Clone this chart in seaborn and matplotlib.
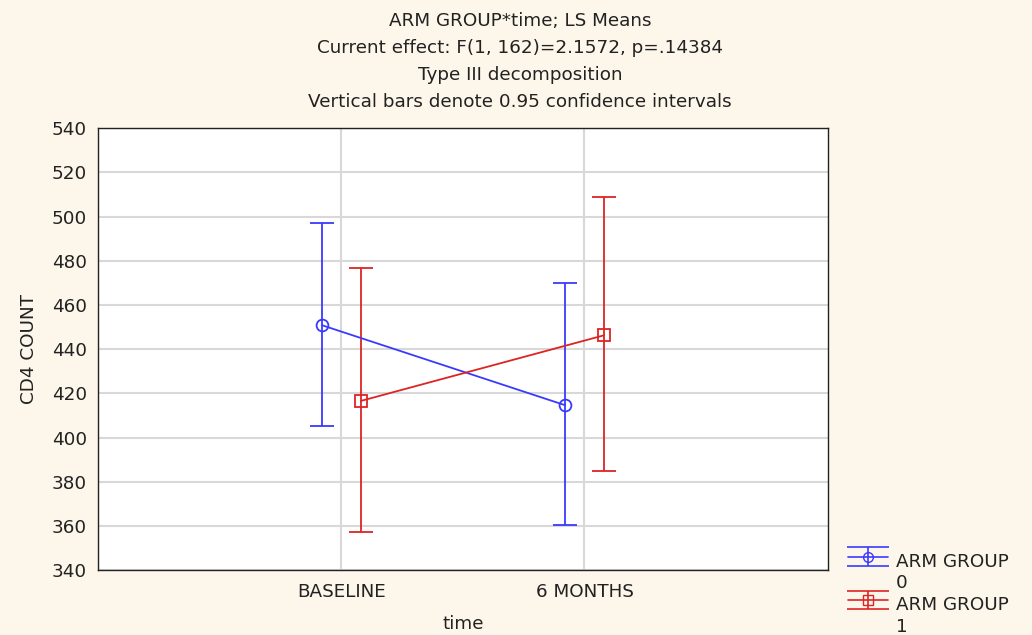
import numpy as np
import pandas as pd
import matplotlib
matplotlib.use("Agg")
import matplotlib.pyplot as plt
from matplotlib.legend_handler import HandlerErrorbar
import seaborn as sns

# ---- data ----
times = ["BASELINE", "6 MONTHS"]
groups = ["ARM GROUP\n0", "ARM GROUP\n1"]
means_g0 = [450.9, 414.7]
lower_g0 = [405.2, 360.4]
upper_g0 = [497.0, 469.9]
means_g1 = [416.6, 446.3]
lower_g1 = [357.2, 384.8]
upper_g1 = [476.7, 508.8]
yticks = list(range(340, 541, 20))

sns.set_theme(style="white")
plt.rcParams['font.family'] = ['DejaVu Sans']

FS = 13.2
bg = "#fdf6ea"
txt = "#222222"
colors = ["#3a3aff", "#dd2424"]
markers = ["o", "s"]
offsets = [-0.08, 0.08]

fig = plt.figure(figsize=(10.32, 6.35), dpi=100, facecolor=bg)
ax = fig.add_axes([0.095, 0.102, 0.707, 0.696])
ax.set_facecolor("white")

rows = []
for g, m, lo, hi in [(groups[0], means_g0, lower_g0, upper_g0),
                     (groups[1], means_g1, lower_g1, upper_g1)]:
    for i, t in enumerate(times):
        rows.append(dict(group=g, time=t, idx=i, mean=m[i], lo=lo[i], hi=hi[i]))
df = pd.DataFrame(rows)

handles = []
for k, g in enumerate(groups):
    sub = df[df.group == g].copy()
    sub["x"] = sub["idx"] + offsets[k]
    sns.lineplot(data=sub, x="x", y="mean", ax=ax, color=colors[k], lw=1.3,
                 marker=markers[k], markersize=8.5 if k == 0 else 9,
                 markerfacecolor="none", markeredgecolor=colors[k],
                 markeredgewidth=1.3, legend=False, zorder=3)
    ax.errorbar(sub["x"], sub["mean"],
                yerr=[sub["mean"] - sub["lo"], sub["hi"] - sub["mean"]],
                fmt="none", ecolor=colors[k], elinewidth=1.3, capsize=8.5,
                capthick=1.3, zorder=2)
    h = ax.errorbar([np.nan], [np.nan], yerr=[[np.nan], [np.nan]], fmt="-",
                    color=colors[k], marker=markers[k], markersize=7,
                    markerfacecolor="none", lw=1.2, capsize=15, capthick=1.2,
                    label=g)
    handles.append(h)


class ShiftedErrorbar(HandlerErrorbar):
    def create_artists(self, legend, orig_handle, xdescent, ydescent, width,
                       height, fontsize, trans):
        return super().create_artists(legend, orig_handle, xdescent,
                                      ydescent - 1.8 * fontsize, width,
                                      height, fontsize, trans)


ax.set_xlim(-1, 2)
ax.set_ylim(340, 540)
ax.set_xticks(range(len(times)))
ax.set_xticklabels(times)
ax.set_yticks(yticks)
ax.grid(True, color="#d8d8d8", lw=1.5)
ax.set_axisbelow(True)
for s in ax.spines.values():
    s.set_color(txt)
    s.set_linewidth(1.0)
ax.tick_params(axis="both", labelsize=FS, colors=txt, direction="in",
               length=4, pad=8)
ax.tick_params(axis="x", length=0, pad=9)
ax.set_xlabel("time", fontsize=FS, labelpad=10, color=txt)
ax.set_ylabel("CD4 COUNT", fontsize=FS, labelpad=10, color=txt)

title_lines = ["ARM GROUP*time; LS Means",
               "Current effect: F(1, 162)=2.1572, p=.14384",
               "Type III decomposition",
               "Vertical bars denote 0.95 confidence intervals"]
for i, line in enumerate(title_lines):
    fig.text(0.504, 1 - (21 + 27 * i) / 635, line, ha="center", va="center",
             fontsize=FS, color=txt)

leg = fig.legend(handles=handles, labels=groups, loc="upper left",
                 bbox_to_anchor=(0.8145, 0.141), frameon=False, fontsize=FS,
                 handlelength=2.2, handletextpad=0.4, labelspacing=0.22,
                 borderaxespad=0,
                 handler_map={type(handles[0]): ShiftedErrorbar()})
for t in leg.get_texts():
    t.set_color(txt)
    t.set_linespacing(1.25)

fig.savefig("out.png", dpi=100, facecolor=bg)
